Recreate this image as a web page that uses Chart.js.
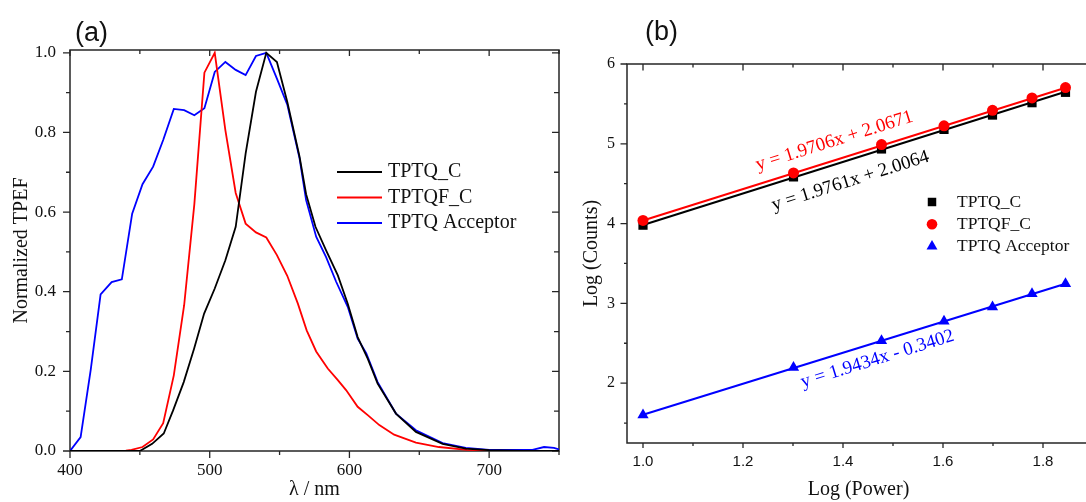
<!DOCTYPE html>
<html>
<head>
<meta charset="utf-8">
<script src="https://cdn.jsdelivr.net/npm/chart.js@4.4.1/dist/chart.umd.min.js"></script>
<style>
  html, body { margin: 0; padding: 0; background: #fff; overflow: hidden; width: 1086px; height: 502px; }
  .panel { position: absolute; top: 0; }
  #panelA { left: 0; }
  #panelB { left: 580px; }
  canvas { display: block; }
</style>
</head>
<body>
<div class="panel" id="panelA"><canvas id="spectra" width="562" height="502"></canvas></div>
<div class="panel" id="panelB"><canvas id="power" width="520" height="502"></canvas></div>
<script>
// ---- (a) normalized two-photon excited fluorescence spectra ----
const wlTPTQ = [400, 450, 458.8, 467.1, 473.8, 481.4, 488.8, 496, 503.6, 511.2, 518.6, 525.7, 533.1, 540.5,
  548.1, 555.5, 564.3, 569, 575.7, 583.3, 591.7, 598.8, 605.9, 613.1, 620.2, 633.3, 647.6, 666.7, 683.3, 700, 725, 750];
const tpefTPTQ = [0, 0, 0.018, 0.044, 0.102, 0.173, 0.257, 0.345, 0.408, 0.479, 0.563, 0.747, 0.902, 1.0,
  0.977, 0.877, 0.739, 0.645, 0.563, 0.504, 0.441, 0.37, 0.286, 0.232, 0.169, 0.094, 0.048, 0.018, 0.006, 0.002, 0, 0];

const wlTPTQF = [400, 440, 444, 451.9, 459.5, 466.7, 474.3, 481.7, 489, 496.2, 503.6, 511.2, 518.6, 525.7, 533.1,
  540.5, 548.1, 555.5, 563.1, 569.4, 576.2, 584.5, 591.7, 597.6, 605.9, 613.1, 621.4, 632, 647.6, 664, 684, 700, 750];
const tpefTPTQF = [0, 0.001, 0.003, 0.01, 0.029, 0.07, 0.19, 0.366, 0.62, 0.95, 1.0, 0.806, 0.648, 0.571, 0.549,
  0.536, 0.492, 0.44, 0.37, 0.303, 0.25, 0.207, 0.178, 0.153, 0.111, 0.09, 0.065, 0.041, 0.021, 0.01, 0.003, 0.001, 0];

const wlAcceptor = [400, 407.6, 414.8, 421.9, 429.8, 437.1, 444.5, 451.9, 459.5, 466.7, 474.3, 481.7, 489, 496.2,
  503.6, 511.2, 518.6, 525.7, 533.1, 540.5, 548.1, 555.6, 564.3, 569, 576.2, 583.3, 590.5, 598.8, 605.9, 612,
  620.2, 633.3, 647.6, 666.7, 683.3, 700, 731, 739.3, 746.4, 750];
const tpefAcceptor = [0, 0.035, 0.203, 0.393, 0.424, 0.431, 0.596, 0.67, 0.714, 0.781, 0.859, 0.856, 0.843, 0.861,
  0.952, 0.977, 0.957, 0.944, 0.992, 1.0, 0.935, 0.869, 0.735, 0.63, 0.538, 0.487, 0.425, 0.362, 0.282, 0.246,
  0.173, 0.094, 0.052, 0.02, 0.008, 0.003, 0.003, 0.01, 0.008, 0.004];

const spectraNames = ['TPTQ_C', 'TPTQF_C', 'TPTQ Acceptor'];
const xTicksA = [400, 500, 600, 700];
const yTicksA = [0, 0.2, 0.4, 0.6, 0.8, 1.0];

// ---- (b) log-log power dependence ----
const logPower = [1.0, 1.301, 1.477, 1.602, 1.699, 1.778, 1.845];
const logCountsTPTQ = [3.98, 4.585, 4.935, 5.18, 5.36, 5.515, 5.645];
const logCountsTPTQF = [4.04, 4.635, 4.99, 5.225, 5.42, 5.575, 5.705];
const logCountsAcceptor = [1.60, 2.195, 2.53, 2.775, 2.955, 3.12, 3.245];
const fitSlopes = [1.9761, 1.9706, 1.9434];
const fitIntercepts = [2.0064, 2.0671, -0.3402];
const xTicksB = [1.0, 1.2, 1.4, 1.6, 1.8];
const yTicksB = [2, 3, 4, 5, 6];

const SERIF = "'Liberation Serif', 'Times New Roman', serif";
const SANS = "'Liberation Sans', Arial, sans-serif";
const INK = '#111';
const FRAME = '#262626';
const COLORS = ['#000000', '#ff0000', '#0000ff'];

const pairs = (xs, ys) => xs.map((x, i) => ({ x, y: ys[i] }));

function stepValues(min, max, step) {
  const out = [];
  for (let k = Math.ceil(min / step - 1e-9); k * step <= max + 1e-9; k++) out.push(k * step);
  return out;
}
const isMultiple = (v, m) => Math.abs(v / m - Math.round(v / m)) < 1e-6;

// Box frame with outward ticks on the bottom/left and inward ticks on the top/right
const frameTicks = {
  id: 'frameTicks',
  beforeDatasetsDraw(chart, args, o) {
    const { ctx, chartArea: a } = chart;
    const xs = chart.scales.x, ys = chart.scales.y;
    ctx.save();
    ctx.strokeStyle = o.color;
    ctx.lineWidth = o.width;
    ctx.beginPath();
    ctx.moveTo(a.left, a.top); ctx.lineTo(a.left, a.bottom); ctx.lineTo(a.right, a.bottom);
    ctx.moveTo(a.left - o.width / 2, a.top); ctx.lineTo(a.right, a.top);
    if (o.right) { ctx.moveTo(a.right, a.top - o.width / 2); ctx.lineTo(a.right, a.bottom + o.width / 2); }
    ctx.stroke();

    ctx.lineWidth = o.tickWidth;
    ctx.beginPath();
    for (const v of stepValues(xs.min, xs.max, o.x.minor)) {
      const major = isMultiple(v, o.x.major);
      const px = xs.getPixelForValue(v);
      const out = major ? o.x.out[0] : o.x.out[1];
      const inn = major ? o.x.top[0] : o.x.top[1];
      ctx.moveTo(px, a.bottom); ctx.lineTo(px, a.bottom + out);
      ctx.moveTo(px, a.top); ctx.lineTo(px, a.top + inn);
    }
    for (const v of stepValues(ys.min, ys.max, o.y.minor)) {
      const major = isMultiple(v, o.y.major);
      const py = ys.getPixelForValue(v);
      const out = major ? o.y.out[0] : o.y.out[1];
      ctx.moveTo(a.left, py); ctx.lineTo(a.left - out, py);
      if (o.right) {
        const inn = major ? o.y.right[0] : o.y.right[1];
        ctx.moveTo(a.right, py); ctx.lineTo(a.right - inn, py);
      }
    }
    ctx.stroke();
    ctx.restore();
  }
};

// Panel letter above each plot
const panelTag = {
  id: 'panelTag',
  afterDraw(chart, args, o) {
    const { ctx } = chart;
    ctx.save();
    ctx.fillStyle = INK;
    ctx.font = `${o.size}px ${SANS}`;
    ctx.textAlign = 'left';
    ctx.textBaseline = 'alphabetic';
    ctx.fillText(o.text, o.x, o.y);
    ctx.restore();
  }
};

// Line-sample key for the spectra
const curveKey = {
  id: 'curveKey',
  afterDatasetsDraw(chart, args, o) {
    const { ctx } = chart;
    ctx.save();
    ctx.font = `${o.size}px ${SERIF}`;
    ctx.textBaseline = 'middle';
    ctx.textAlign = 'left';
    chart.data.datasets.forEach((ds, i) => {
      const y = o.y + i * o.dy;
      ctx.strokeStyle = ds.borderColor;
      ctx.lineWidth = ds.borderWidth;
      ctx.beginPath();
      ctx.moveTo(o.x, y); ctx.lineTo(o.x + o.len, y);
      ctx.stroke();
      ctx.fillStyle = INK;
      ctx.fillText(ds.label, o.x + o.len + o.gap, y);
    });
    ctx.restore();
  }
};

function drawMarker(ctx, style, r, x, y, color) {
  ctx.fillStyle = color;
  ctx.beginPath();
  if (style === 'rect') {
    const s = Math.SQRT1_2 * r;
    ctx.rect(x - s, y - s, 2 * s, 2 * s);
  } else if (style === 'circle') {
    ctx.arc(x, y, r, 0, Math.PI * 2);
  } else {
    for (let k = 0; k < 3; k++) {
      const ang = k * 2 * Math.PI / 3;
      const px = x + Math.sin(ang) * r, py = y - Math.cos(ang) * r;
      k ? ctx.lineTo(px, py) : ctx.moveTo(px, py);
    }
    ctx.closePath();
  }
  ctx.fill();
}

// Marker key plus fitted-line equations for the power plot
const powerNotes = {
  id: 'powerNotes',
  afterDatasetsDraw(chart, args, o) {
    const { ctx } = chart;
    const xs = chart.scales.x, ys = chart.scales.y;
    ctx.save();
    // key
    ctx.font = `${o.keySize}px ${SERIF}`;
    ctx.textBaseline = 'middle';
    ctx.textAlign = 'left';
    chart.data.datasets.filter(d => !d.showLine).forEach((ds, i) => {
      const y = o.keyY + i * o.keyDy;
      drawMarker(ctx, ds.pointStyle, o.keyRadius[i], o.keyX, y, ds.backgroundColor);
      ctx.fillStyle = INK;
      ctx.fillText(ds.label, o.keyTextX, y);
    });
    // equations, rotated along each fitted line
    ctx.font = `${o.eqSize}px ${SERIF}`;
    ctx.textAlign = 'center';
    o.eqAt.forEach((p, i) => {
      const m = fitSlopes[i], b = fitIntercepts[i];
      const x0 = logPower[0], x1 = logPower[logPower.length - 1];
      const ang = Math.atan2(ys.getPixelForValue(m * x1 + b) - ys.getPixelForValue(m * x0 + b),
                             xs.getPixelForValue(x1) - xs.getPixelForValue(x0));
      const text = `y = ${m.toFixed(4)}x ${b < 0 ? '-' : '+'} ${Math.abs(b).toFixed(4)}`;
      ctx.save();
      ctx.translate(xs.getPixelForValue(p[0]), ys.getPixelForValue(p[1]));
      ctx.rotate(ang);
      ctx.fillStyle = COLORS[i];
      ctx.fillText(text, 0, 0);
      ctx.restore();
    });
    ctx.restore();
  }
};

const hiddenGrid = { display: false, drawTicks: false };

new Chart(document.getElementById('spectra'), {
  type: 'line',
  data: {
    datasets: [
      { label: spectraNames[0], data: pairs(wlTPTQ, tpefTPTQ), borderColor: COLORS[0] },
      { label: spectraNames[1], data: pairs(wlTPTQF, tpefTPTQF), borderColor: COLORS[1] },
      { label: spectraNames[2], data: pairs(wlAcceptor, tpefAcceptor), borderColor: COLORS[2] }
    ].map(d => Object.assign(d, { borderWidth: 1.8, pointRadius: 0, tension: 0, fill: false }))
  },
  options: {
    responsive: false, animation: false, events: [],
    layout: { padding: { top: 50, right: 3, left: 0, bottom: 0 } },
    plugins: {
      legend: { display: false }, tooltip: { enabled: false },
      frameTicks: { color: FRAME, width: 1.5, tickWidth: 1.3, right: true,
        x: { major: 100, minor: 50, out: [7, 4], top: [6, 4] },
        y: { major: 0.2, minor: 0.1, out: [7, 4], right: [7, 5] } },
      curveKey: { x: 337, y: 172, dy: 25.5, len: 45, gap: 6, size: 20 },
      panelTag: { text: '(a)', x: 75, y: 41, size: 27 }
    },
    scales: {
      x: {
        type: 'linear', min: 400, max: 750,
        afterFit: s => { s.height = 51; },
        afterBuildTicks: s => { s.ticks = xTicksA.map(value => ({ value })); },
        grid: hiddenGrid, border: { display: false },
        ticks: { autoSkip: false, maxRotation: 0, padding: 9, color: INK, font: { family: SERIF, size: 17 } },
        title: { display: true, text: 'λ / nm', color: INK, font: { family: SERIF, size: 20 }, padding: { top: 0, bottom: 0 } }
      },
      y: {
        type: 'linear', min: 0, max: 1.007,
        afterFit: s => { s.width = 70; },
        afterBuildTicks: s => { s.ticks = yTicksA.map(value => ({ value })); },
        grid: hiddenGrid, border: { display: false },
        ticks: { autoSkip: false, padding: 14, color: INK, font: { family: SERIF, size: 17 }, callback: v => v.toFixed(1) },
        title: { display: true, text: 'Normalized TPEF', color: INK, font: { family: SERIF, size: 20 }, padding: { top: 10, bottom: 0 } }
      }
    }
  },
  plugins: [frameTicks, curveKey, panelTag]
});

const markerSets = [
  { label: spectraNames[0], data: pairs(logPower, logCountsTPTQ), pointStyle: 'rect', pointRadius: 6.5, order: 2 },
  { label: spectraNames[1], data: pairs(logPower, logCountsTPTQF), pointStyle: 'circle', pointRadius: 5.5, order: 1 },
  { label: spectraNames[2], data: pairs(logPower, logCountsAcceptor), pointStyle: 'triangle', pointRadius: 6.5, order: 1 }
].map((d, i) => Object.assign(d, { showLine: false, backgroundColor: COLORS[i], borderColor: COLORS[i], borderWidth: 0 }));

// straight fitted lines spanning the measured power range
const fitSets = fitSlopes.map((m, i) => ({
  label: 'fit ' + spectraNames[i],
  data: [logPower[0], logPower[logPower.length - 1]].map(x => ({ x, y: m * x + fitIntercepts[i] })),
  showLine: true, pointRadius: 0, borderColor: COLORS[i], borderWidth: 2, order: 5
}));

new Chart(document.getElementById('power'), {
  type: 'scatter',
  data: { datasets: [...fitSets, ...markerSets] },
  options: {
    responsive: false, animation: false, events: [],
    layout: { padding: { top: 64, right: 10, left: 0, bottom: 0 } },
    plugins: {
      legend: { display: false }, tooltip: { enabled: false },
      frameTicks: { color: FRAME, width: 1.5, tickWidth: 1.3, right: false,
        x: { major: 0.2, minor: 0.1, out: [5, 3], top: [6.5, 3.5] },
        y: { major: 1, minor: 0.5, out: [6.5, 3], right: [0, 0] } },
      powerNotes: { keyX: 352, keyTextX: 377, keyY: 202, keyDy: 22.2, keyRadius: [6, 5.3, 6.3], keySize: 17.5,
        eqSize: 19, eqAt: [[1.415, 4.533], [1.383, 5.035], [1.469, 2.301]] },
      panelTag: { text: '(b)', x: 65, y: 40, size: 27 }
    },
    scales: {
      x: {
        type: 'linear', min: 0.968, max: 1.894,
        afterFit: s => { s.height = 59; },
        afterBuildTicks: s => { s.ticks = xTicksB.map(value => ({ value })); },
        grid: hiddenGrid, border: { display: false },
        ticks: { autoSkip: false, maxRotation: 0, padding: 10, color: INK, font: { family: SANS, size: 15 }, callback: v => v.toFixed(1) },
        title: { display: true, text: 'Log (Power)', color: INK, font: { family: SERIF, size: 20 }, padding: { top: 0, bottom: 0 } }
      },
      y: {
        type: 'linear', min: 1.25, max: 6,
        afterFit: s => { s.width = 47; },
        afterBuildTicks: s => { s.ticks = yTicksB.map(value => ({ value })); },
        grid: hiddenGrid, border: { display: false },
        ticks: { autoSkip: false, padding: 12, color: INK, font: { family: SERIF, size: 16 }, callback: v => String(v) },
        title: { display: true, text: 'Log (Counts)', color: INK, font: { family: SERIF, size: 20 }, padding: { top: 0, bottom: 0 } }
      }
    }
  },
  plugins: [frameTicks, powerNotes, panelTag]
});
</script>
</body>
</html>
